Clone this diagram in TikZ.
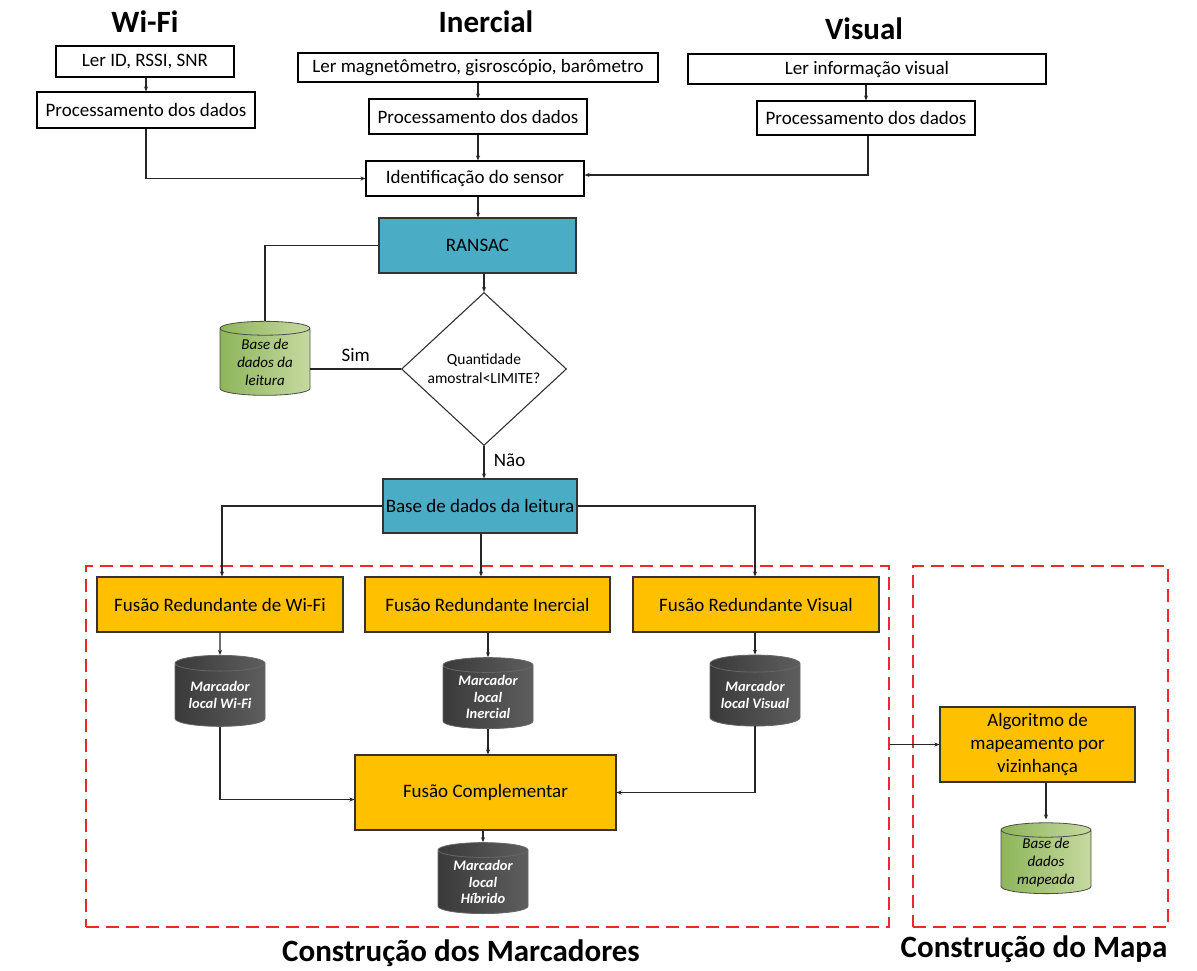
\documentclass[tikz,border=0pt]{standalone}
\usepackage{fontspec}
\setmainfont{Carlito}
\usetikzlibrary{shapes.geometric,arrows.meta}

\definecolor{tealbox}{HTML}{4BACC6}
\definecolor{orangebox}{HTML}{FFC000}
\definecolor{greenL}{HTML}{8DB55A}
\definecolor{greenR}{HTML}{C6D9A0}
\definecolor{darkL}{HTML}{3A3A3A}
\definecolor{darkR}{HTML}{5E5E5E}
\definecolor{regionred}{HTML}{F0282D}

\tikzset{
  wbox/.style={draw=black, line width=1.1pt, fill=white, inner sep=0pt,
    font=\fontsize{19}{22}\selectfont},
  tbox/.style={draw=black!80, line width=1.1pt, fill=tealbox, inner sep=0pt,
    font=\fontsize{19}{22}\selectfont},
  obox/.style={draw=black!80, line width=1.1pt, fill=orangebox, inner sep=0pt,
    align=center, font=\fontsize{19}{23}\selectfont},
  gcyl/.style={cylinder, shape border rotate=90, aspect=0.25, draw=black!70,
    line width=0.8pt, left color=greenL, right color=greenR, inner sep=0pt,
    minimum width=90pt, minimum height=74pt, align=center,
    font=\fontsize{15}{18}\selectfont\itshape},
  dcyl/.style={cylinder, shape border rotate=90, aspect=0.25, draw=black!60,
    line width=0.8pt, left color=darkL, right color=darkR, inner sep=0pt,
    minimum width=90pt, minimum height=71pt, align=center, text=white,
    font=\fontsize{14.5}{16.5}\selectfont\bfseries\itshape},
  title/.style={font=\fontsize{31}{35}\selectfont\bfseries},
  region/.style={draw=regionred, line width=1.2pt, dash pattern=on 13pt off 7pt},
  conn/.style={draw=black!85, line width=1.1pt, -{Stealth[length=5pt,width=4pt]}},
  plain/.style={draw=black!85, line width=1.1pt},
  lbl/.style={font=\fontsize{19}{22}\selectfont},
}

\begin{document}
\begin{tikzpicture}[x=1pt,y=-1pt]
\useasboundingbox[fill=white] (0,0) rectangle (1197,970);

% column titles
\node[title] (tw) at (145,22) {Wi-Fi};
\node[title] (ti) at (486,22) {Inercial};
\node[title] (tv) at (864,29) {Visual};

% sensor reading and processing
\node[wbox, minimum width=178pt, minimum height=31pt] (wread) at (145,61.5) {Ler ID, RSSI, SNR};
\node[wbox, minimum width=218pt, minimum height=36pt] (wproc) at (146,110) {Processamento dos dados};
\node[wbox, minimum width=360pt, minimum height=29pt] (iread) at (478,67.5) {Ler magnetômetro, gisroscópio, barômetro};
\node[wbox, minimum width=218pt, minimum height=35pt] (iproc) at (478,116.5) {Processamento dos dados};
\node[wbox, minimum width=358pt, minimum height=30pt] (vread) at (867,69) {Ler informação visual};
\node[wbox, minimum width=218pt, minimum height=34pt] (vproc) at (866,118) {Processamento dos dados};
\node[wbox, minimum width=218pt, minimum height=35pt] (ident) at (475,178.5) {Identificação do sensor};

% sample check
\node[tbox, minimum width=197pt, minimum height=55pt] (ransac) at (477.5,245.5) {RANSAC};
\node[diamond, draw=black!80, line width=1.1pt, fill=white, minimum width=165pt,
  minimum height=153pt, inner sep=0pt, aspect=1.08, align=center,
  font=\fontsize{15.5}{19}\selectfont] (check) at (484,369) {Quantidade\\amostral<LIMITE?};
\node[gcyl] (bdl) at (265,362) {Base de\\dados da\\leitura};
\node[tbox, minimum width=194pt, minimum height=54pt] (base) at (480,506) {Base de dados da leitura};

% markers construction
\node[region, minimum width=803pt, minimum height=361pt, inner sep=0pt] (marc) at (487.5,746.5) {};
\node[region, minimum width=255pt, minimum height=361pt, inner sep=0pt] (mapa) at (1040.5,746.5) {};

\node[obox, minimum width=246pt, minimum height=55pt] (fw) at (220,604.5) {Fusão Redundante de Wi-Fi};
\node[obox, minimum width=245pt, minimum height=55pt] (fi) at (487.5,604.5) {Fusão Redundante Inercial};
\node[obox, minimum width=246pt, minimum height=55pt] (fv) at (756,604.5) {Fusão Redundante Visual};

\node[dcyl] (mw) at (220,695) {Marcador\\local Wi-Fi};
\node[dcyl] (mi) at (488,697) {Marcador\\local\\Inercial};
\node[dcyl] (mv) at (755,695) {Marcador\\local Visual};

\node[obox, minimum width=261pt, minimum height=75pt] (fc) at (485.5,792.5) {Fusão Complementar};
\node[dcyl] (mh) at (483,882) {Marcador\\local\\Híbrido};

% map construction
\node[obox, minimum width=195pt, minimum height=75pt] (alg) at (1037.5,744.5) {Algoritmo de\\mapeamento por\\vizinhança};
\node[gcyl, minimum height=70pt] (bdm) at (1046,862) {Base de\\dados\\mapeada};

% region captions
\node[title] (cm) at (461,953) {Construção dos Marcadores};
\node[title] (cmap) at (1034,949) {Construção do Mapa};

% connectors
\draw[conn] (wread.south -| wproc.north) -- (wproc.north);
\draw[conn] (iread.south) -- (iproc.north);
\draw[conn] (vread.south -| vproc.north) -- (vproc.north);
\draw[conn] (wproc.south) |- (ident.west);
\draw[conn] ([xshift=2pt]vproc.south) |- ([yshift=3.5pt]ident.east);
\draw[conn] (iproc.south) -- (iproc.south |- ident.north);
\draw[conn] ([xshift=3pt]ident.south) -- ([xshift=3pt]ident.south |- ransac.north);
\draw[plain] (ransac.west) -| (bdl.north);
\draw[conn] (check.north |- ransac.south) -- (check.north);
\draw[plain] (check.west) -- (check.west -| bdl.east) node[midway, above=3pt, lbl] (sim) {Sim};
\draw[conn] (check.south) -- (check.south |- base.north) node[pos=0.45, right=6pt, lbl] (nao) {Não};
\draw[conn] (base.west) -| ([xshift=2pt]fw.north);
\draw[conn] ([xshift=1pt]base.south) -- ([xshift=1pt]base.south |- fi.north);
\draw[conn] (base.east) -| ([xshift=-1pt]fv.north);
\draw[conn] (fw.south) -- (mw.north);
\draw[conn] (fi.south -| mi.north) -- (mi.north);
\draw[conn] (fv.south -| mv.north) -- (mv.north);
\draw[conn] (mw.south) |- ([yshift=-7pt]fc.west);
\draw[conn] (mi.south) -- (mi.south |- fc.north);
\draw[conn] (mv.south) |- (fc.east);
\draw[conn] (fc.south -| mh.north) -- (mh.north);
\draw[conn] (marc.east |- alg.west) -- (alg.west);
\draw[conn] (alg.south -| bdm.north) -- ([yshift=3pt]bdm.north);
\end{tikzpicture}
\end{document}
